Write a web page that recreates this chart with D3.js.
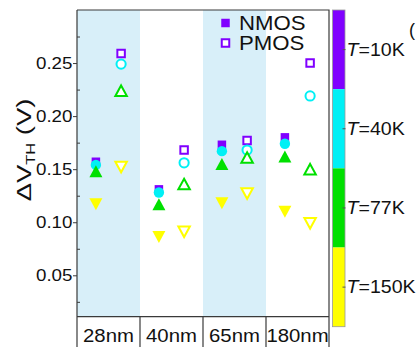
<!DOCTYPE html>
<html>
<head>
<meta charset="utf-8">
<script src="https://cdn.jsdelivr.net/npm/d3@7"></script>
<style>
  html, body { margin: 0; padding: 0; background: #fff; }
  svg { display: block; font-family: "Liberation Sans", Arial, sans-serif; }
</style>
</head>
<body>
<svg id="chart" width="417" height="347"></svg>
<script>
// Technology nodes and temperatures
const categories = ["28nm", "40nm", "65nm", "180nm"];
const devices = ["NMOS", "PMOS"];
const temps = ["T=10K", "T=40K", "T=77K", "T=150K"];
const tempColors = ["#8000ff", "#00f0f5", "#00e000", "#ffff00"];

// Threshold-voltage shift ΔV_TH (V) per node
const nmos10K  = [0.157, 0.131, 0.173, 0.180];
const nmos40K  = [0.154, 0.128, 0.167, 0.174];
const nmos77K  = [0.148, 0.117, 0.155, 0.162];
const nmos150K = [0.117, 0.086, 0.118, 0.110];
const pmos10K  = [0.259, 0.168, 0.177, 0.250];
const pmos40K  = [0.249, 0.156, 0.168, 0.219];
const pmos77K  = [0.224, 0.136, 0.161, 0.150];
const pmos150K = [0.152, 0.091, 0.127, 0.099];

const yTicks = [0.05, 0.10, 0.15, 0.20, 0.25];
const yMinorTicks = [0.025, 0.075, 0.125, 0.175, 0.225, 0.275];

const svg = d3.select("#chart");
const L = 77, R = 329, T = 10, B = 316.7;
const frameColor = "#3a3a3a";

const x = d3.scaleBand().domain(categories).range([L, R]).padding(0);
const xDev = d3.scalePoint().domain(devices).range([x.bandwidth() * 0.3, x.bandwidth() * 0.7]);
const y = d3.scaleLinear().domain([0.011, 0.30]).range([B, T]);

// alternating shaded bands
svg.append("g").selectAll("rect")
  .data(categories.filter((d, i) => i % 2 === 0))
  .join("rect")
  .attr("x", d => x(d)).attr("y", T)
  .attr("width", x.bandwidth()).attr("height", B - T)
  .attr("fill", "#d8eff9");

// series table built from the arrays
const series = [
  { dev: "NMOS", t: 0, vals: nmos10K,  shape: "square" },
  { dev: "NMOS", t: 1, vals: nmos40K,  shape: "circle" },
  { dev: "NMOS", t: 2, vals: nmos77K,  shape: "up" },
  { dev: "NMOS", t: 3, vals: nmos150K, shape: "down" },
  { dev: "PMOS", t: 0, vals: pmos10K,  shape: "square" },
  { dev: "PMOS", t: 1, vals: pmos40K,  shape: "circle" },
  { dev: "PMOS", t: 2, vals: pmos77K,  shape: "up" },
  { dev: "PMOS", t: 3, vals: pmos150K, shape: "down" }
];

function shapePath(shape, filled) {
  const p = d3.path();
  if (shape === "square") {
    const s = filled ? 8.5 : 7.5;
    p.rect(-s / 2, -s / 2, s, s);
  } else if (shape === "circle") {
    p.arc(0, 0, filled ? 5.2 : 4.6, 0, 2 * Math.PI);
  } else if (shape === "up") {
    const w = filled ? 13 : 11.5, h = filled ? 12 : 10.5;
    p.moveTo(0, -h / 2); p.lineTo(w / 2, h / 2); p.lineTo(-w / 2, h / 2); p.closePath();
  } else {
    const w = filled ? 13 : 11.5, h = filled ? 12 : 10.5;
    p.moveTo(-w / 2, -h / 2); p.lineTo(w / 2, -h / 2); p.lineTo(0, h / 2); p.closePath();
  }
  return p.toString();
}

const marks = svg.append("g");
series.forEach(s => {
  const filled = s.dev === "NMOS";
  marks.append("g").selectAll("path")
    .data(s.vals.map((v, i) => ({ cat: categories[i], v })))
    .join("path")
    .attr("transform", d => `translate(${x(d.cat) + xDev(s.dev)},${y(d.v)})`)
    .attr("d", shapePath(s.shape, filled))
    .attr("fill", filled ? tempColors[s.t] : "#fff")
    .attr("stroke", tempColors[s.t])
    .attr("stroke-width", filled ? 0 : 2);
});

// legend
const legend = svg.append("g");
[{ dev: "NMOS", yy: 23 }, { dev: "PMOS", yy: 43 }].forEach(l => {
  const filled = l.dev === "NMOS";
  legend.append("path")
    .attr("transform", `translate(225.5,${l.yy})`)
    .attr("d", shapePath("square", filled))
    .attr("fill", filled ? tempColors[0] : "#fff")
    .attr("stroke", tempColors[0])
    .attr("stroke-width", filled ? 0 : 2);
  legend.append("text")
    .attr("transform", `translate(239,${l.yy + 7}) scale(1.11,1)`)
    .attr("font-size", 20)
    .attr("fill", "#111")
    .text(l.dev);
});

// frame
svg.append("path")
  .attr("d", `M${L},${T}H${R}V347M${L},${B}H${R}`)
  .attr("fill", "none").attr("stroke", frameColor).attr("stroke-width", 1.2);

// y axis: major ticks outward, minor ticks inward
const yAxis = svg.append("g").attr("transform", `translate(${L},0)`)
  .call(d3.axisLeft(y).tickValues(yTicks).tickFormat(d3.format(".2f"))
    .tickSizeInner(4).tickSizeOuter(0).tickPadding(0));
yAxis.select(".domain").remove();
yAxis.selectAll(".tick line").attr("stroke", frameColor);
yAxis.selectAll(".tick text")
  .attr("font-size", 16.3).attr("fill", "#111")
  .attr("font-family", "Liberation Sans, Arial, sans-serif")
  .attr("transform", "scale(1.15,1)");

const yMinor = svg.append("g").attr("transform", `translate(${L},0)`)
  .call(d3.axisRight(y).tickValues(yMinorTicks).tickFormat("").tickSizeInner(3).tickSizeOuter(0));
yMinor.select(".domain").remove();
yMinor.selectAll(".tick line").attr("stroke", frameColor);

svg.append("line")
  .attr("x1", L).attr("x2", L).attr("y1", T).attr("y2", 347)
  .attr("stroke", frameColor).attr("stroke-width", 1.2);

// category boxes below the plot
const catG = svg.append("g");
catG.selectAll("line")
  .data(categories.slice(1))
  .join("line")
  .attr("x1", d => x(d)).attr("x2", d => x(d))
  .attr("y1", B).attr("y2", 347)
  .attr("stroke", frameColor).attr("stroke-width", 1.2);
catG.selectAll("text")
  .data(categories)
  .join("text")
  .attr("transform", d => `translate(${x(d) + x.bandwidth() / 2},341.5) scale(1.1,1)`)
  .attr("text-anchor", "middle")
  .attr("font-size", 18.5)
  .attr("fill", "#111")
  .text(d => d);

// y axis title
const title = svg.append("text")
  .attr("transform", "translate(31,150) rotate(-90) scale(1.37,1)")
  .attr("text-anchor", "middle")
  .attr("font-size", 20)
  .attr("fill", "#111");
title.append("tspan").text("ΔV");
title.append("tspan").attr("font-size", 12).attr("dy", 4).text("TH");
title.append("tspan").attr("dy", -4).text(" (V)");

// temperature colour bar
const cb = d3.scaleBand().domain(temps).range([10, 326.7]).padding(0);
const cbG = svg.append("g");
cbG.selectAll("rect")
  .data(temps)
  .join("rect")
  .attr("x", 332.5).attr("y", d => cb(d))
  .attr("width", 12.5).attr("height", cb.bandwidth())
  .attr("fill", (d, i) => tempColors[i]);
cbG.append("rect")
  .attr("x", 332.5).attr("y", 10).attr("width", 12.5).attr("height", 316.7)
  .attr("fill", "none").attr("stroke", "#999").attr("stroke-width", 0.8);
cbG.selectAll("line.tk")
  .data(temps)
  .join("line")
  .attr("class", "tk")
  .attr("x1", 342.5).attr("x2", 345.5)
  .attr("y1", d => cb(d) + cb.bandwidth() / 2).attr("y2", d => cb(d) + cb.bandwidth() / 2)
  .attr("stroke", "#555").attr("stroke-width", 1);
const cbText = cbG.selectAll("text")
  .data(temps)
  .join("text")
  .attr("transform", d => `translate(346.5,${cb(d) + cb.bandwidth() / 2 + 6.3}) scale(1.12,1)`)
  .attr("font-size", 17.5)
  .attr("fill", "#111");
cbText.append("tspan").attr("font-style", "italic").text(d => d.split("=")[0]);
cbText.append("tspan").text(d => "=" + d.split("=")[1]);

// opening bracket of the panel label at the right edge
svg.append("text")
  .attr("x", 409).attr("y", 36)
  .attr("font-size", 18).attr("fill", "#111")
  .text("(");
</script>
</body>
</html>
